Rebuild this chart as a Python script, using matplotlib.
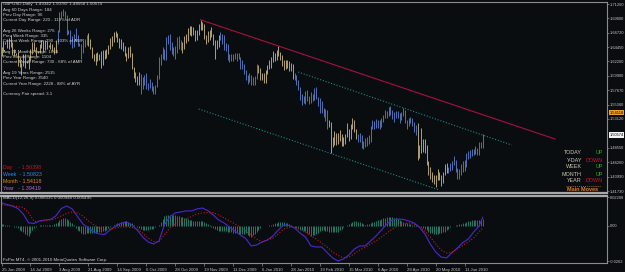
import matplotlib
matplotlib.use('Agg')
import matplotlib.pyplot as plt
import matplotlib.transforms as mtransforms
from matplotlib.lines import Line2D
import numpy as np

plt.rcParams['font.family'] = ['Liberation Sans', 'DejaVu Sans']

# GBPUSD daily bars, 25 Jun 2009 .. 25 Jun 2010 (one value per bar)
highs = [
    1.6440, 1.6550, 1.6530, 1.6580, 1.6590, 1.6630, 1.6530, 1.6410, 1.6360, 1.6370,
    1.6290, 1.6200, 1.6330, 1.6330, 1.6230, 1.6300, 1.6420, 1.6520, 1.6520, 1.6440,
    1.6390, 1.6490, 1.6560, 1.6560, 1.6560, 1.6540, 1.6480, 1.6530, 1.6500, 1.6440,
    1.6560, 1.6720, 1.7000, 1.7020, 1.7043, 1.7010, 1.6950, 1.6710, 1.6720, 1.6620,
    1.6650, 1.6740, 1.6640, 1.6510, 1.6500, 1.6550, 1.6580, 1.6630, 1.6670, 1.6580,
    1.6450, 1.6340, 1.6350, 1.6370, 1.6330, 1.6380, 1.6400, 1.6400, 1.6420, 1.6480,
    1.6590, 1.6620, 1.6690, 1.6700, 1.6670, 1.6590, 1.6580, 1.6530, 1.6470, 1.6360,
    1.6450, 1.6460, 1.6350, 1.6130, 1.6060, 1.5990, 1.6050, 1.6020, 1.5980, 1.6000,
    1.6030, 1.5880, 1.5950, 1.5900, 1.5830, 1.5850, 1.6000, 1.6290, 1.6340, 1.6440,
    1.6410, 1.6610, 1.6640, 1.6660, 1.6520, 1.6450, 1.6460, 1.6600, 1.6620, 1.6560,
    1.6520, 1.6620, 1.6660, 1.6740, 1.6780, 1.6780, 1.6760, 1.6720, 1.6720, 1.6810,
    1.6877, 1.6840, 1.6810, 1.6640, 1.6700, 1.6720, 1.6760, 1.6660, 1.6560, 1.6560,
    1.6630, 1.6680, 1.6650, 1.6640, 1.6510, 1.6490, 1.6330, 1.6330, 1.6330, 1.6360,
    1.6350, 1.6350, 1.6290, 1.6240, 1.6180, 1.6080, 1.6000, 1.6030, 1.6010, 1.5980,
    1.5990, 1.6180, 1.6160, 1.6120, 1.6040, 1.6040, 1.6080, 1.6170, 1.6240, 1.6290,
    1.6380, 1.6360, 1.6400, 1.6457, 1.6370, 1.6320, 1.6240, 1.6240, 1.6250, 1.6220,
    1.6200, 1.6180, 1.6030, 1.6000, 1.5920, 1.5810, 1.5700, 1.5670, 1.5760, 1.5770,
    1.5680, 1.5730, 1.5710, 1.5800, 1.5820, 1.5660, 1.5650, 1.5600, 1.5490, 1.5470,
    1.5460, 1.5290, 1.5270, 1.5020, 1.5120, 1.5090, 1.5090, 1.5130, 1.5080, 1.5030,
    1.5080, 1.5240, 1.5160, 1.5230, 1.5320, 1.5290, 1.5160, 1.5080, 1.5090, 1.5050,
    1.4960, 1.5010, 1.5030, 1.5060, 1.5200, 1.5290, 1.5280, 1.5310, 1.5300, 1.5290,
    1.5330, 1.5380, 1.5460, 1.5440, 1.5500, 1.5520, 1.5460, 1.5420, 1.5440, 1.5430,
    1.5410, 1.5420, 1.5480, 1.5460, 1.5300, 1.5320, 1.5340, 1.5330, 1.5260, 1.5210,
    1.5240, 1.4900, 1.5170, 1.5000, 1.4990, 1.4900, 1.4640, 1.4550, 1.4480, 1.4430,
    1.4430, 1.4520, 1.4480, 1.4430, 1.4480, 1.4600, 1.4610, 1.4560, 1.4620, 1.4640,
    1.4720, 1.4660, 1.4530, 1.4520, 1.4600, 1.4650, 1.4670, 1.4770, 1.4800, 1.4820,
    1.4830, 1.4840, 1.4890, 1.4860, 1.4940, 1.4955, 1.5079,
]
lows = [
    1.6300, 1.6390, 1.6500, 1.6430, 1.6420, 1.6440, 1.6320, 1.6300, 1.6320, 1.6150,
    1.6130, 1.6000, 1.6150, 1.6120, 1.6190, 1.6100, 1.6230, 1.6340, 1.6380, 1.6300,
    1.6350, 1.6350, 1.6430, 1.6370, 1.6400, 1.6420, 1.6440, 1.6420, 1.6380, 1.6330,
    1.6360, 1.6500, 1.6690, 1.6900, 1.6930, 1.6870, 1.6640, 1.6660, 1.6500, 1.6430,
    1.6440, 1.6560, 1.6460, 1.6460, 1.6260, 1.6350, 1.6450, 1.6480, 1.6460, 1.6410,
    1.6270, 1.6230, 1.6160, 1.6220, 1.6240, 1.6120, 1.6170, 1.6260, 1.6270, 1.6340,
    1.6410, 1.6460, 1.6520, 1.6600, 1.6530, 1.6430, 1.6420, 1.6380, 1.6300, 1.6220,
    1.6280, 1.6290, 1.6100, 1.5960, 1.5890, 1.5840, 1.5840, 1.5710, 1.5780, 1.5850,
    1.5780, 1.5770, 1.5800, 1.5750, 1.5710, 1.5707, 1.5820, 1.5940, 1.6170, 1.6260,
    1.6240, 1.6240, 1.6490, 1.6400, 1.6330, 1.6300, 1.6260, 1.6360, 1.6420, 1.6400,
    1.6360, 1.6420, 1.6510, 1.6540, 1.6630, 1.6620, 1.6640, 1.6540, 1.6560, 1.6640,
    1.6720, 1.6720, 1.6580, 1.6490, 1.6520, 1.6560, 1.6600, 1.6480, 1.6260, 1.6420,
    1.6440, 1.6560, 1.6500, 1.6400, 1.6380, 1.6250, 1.6210, 1.6220, 1.6220, 1.6260,
    1.6220, 1.6260, 1.6100, 1.6100, 1.6020, 1.5920, 1.5860, 1.5900, 1.5840, 1.5840,
    1.5850, 1.5950, 1.6040, 1.5920, 1.5920, 1.5880, 1.5880, 1.6020, 1.6100, 1.6110,
    1.6210, 1.6230, 1.6250, 1.6310, 1.6240, 1.6140, 1.6080, 1.6100, 1.6120, 1.6070,
    1.6070, 1.5950, 1.5920, 1.5850, 1.5770, 1.5610, 1.5530, 1.5570, 1.5550, 1.5600,
    1.5540, 1.5560, 1.5600, 1.5610, 1.5620, 1.5520, 1.5410, 1.5400, 1.5340, 1.5280,
    1.5150, 1.5180, 1.4781, 1.4870, 1.4900, 1.4900, 1.4920, 1.4960, 1.4890, 1.4880,
    1.4920, 1.5020, 1.4960, 1.5000, 1.5160, 1.5110, 1.5000, 1.4940, 1.4950, 1.4850,
    1.4840, 1.4870, 1.4880, 1.4920, 1.4940, 1.5150, 1.5150, 1.5170, 1.5170, 1.5160,
    1.5190, 1.5260, 1.5330, 1.5320, 1.5360, 1.5380, 1.5310, 1.5260, 1.5330, 1.5330,
    1.5250, 1.5300, 1.5360, 1.5250, 1.5150, 1.5200, 1.5240, 1.5200, 1.5110, 1.5060,
    1.4660, 1.4700, 1.4770, 1.4790, 1.4780, 1.4580, 1.4430, 1.4370, 1.4320, 1.4290,
    1.4230, 1.4350, 1.4350, 1.4250, 1.4300, 1.4420, 1.4460, 1.4450, 1.4490, 1.4500,
    1.4580, 1.4470, 1.4370, 1.4370, 1.4420, 1.4470, 1.4490, 1.4550, 1.4680, 1.4690,
    1.4720, 1.4740, 1.4760, 1.4740, 1.4740, 1.4859, 1.4856,
]
# bar colouring runs: first bar of each run and its colour
run_start = [0, 31, 48, 77, 100, 121, 142, 162, 181, 197, 230, 247]
run_col = ['gold', 'blue', 'gold', 'blue', 'gold', 'blue',
           'gold', 'blue', 'gold', 'blue', 'gold', 'blue']

date_labels = ['25 Jun 2009', '14 Jul 2009', '3 Aug 2009', '21 Aug 2009', '14 Sep 2009',
               '6 Oct 2009', '28 Oct 2009', '19 Nov 2009', '11 Dec 2009', '6 Jan 2010',
               '28 Jan 2010', '19 Feb 2010', '15 Mar 2010', '6 Apr 2010', '28 Apr 2010',
               '20 May 2010', '11 Jun 2010']
date_bar = [0, 16, 32, 48, 64, 80, 96, 112, 128, 144, 160, 176, 192, 208, 224, 240, 256]

price_ticks = [1.7126, 1.6900, 1.6672, 1.6445, 1.6220, 1.5990, 1.5767,
               1.5536, 1.5312, 1.4855, 1.4626, 1.4399, 1.4173]
price_labels = ['1.71260', '1.69000', '1.66720', '1.64450', '1.62200', '1.59900', '1.57670',
                '1.55360', '1.53120', '1.48550', '1.46260', '1.43990', '1.41730']
last_price = 1.50574
month_level = 1.54118

# trendline and channel anchors (bar index, price)
trend_x, trend_y = [110, 306], [1.6877, 1.4994]
chan_hi_x, chan_hi_y = [164, 282], [1.6052, 1.4900]
chan_lo_x, chan_lo_y = [109, 242], [1.5468, 1.4189]

# MACD(12,26,9), read every third bar
macd_bar = list(range(0, 265, 3)) + [266]
macd_main = [
    0.0173, 0.0161, 0.0150, 0.0131, 0.0090, 0.0023, 0.0019, 0.0038, 0.0045, 0.0049,
    0.0075, 0.0131, 0.0150, 0.0128, 0.0071, 0.0015, -0.0015, -0.0045, -0.0060, -0.0064,
    -0.0030, 0.0000, 0.0019, 0.0030, 0.0008, -0.0030, -0.0083, -0.0120, -0.0135, -0.0113,
    0.0008, 0.0068, 0.0098, 0.0105, 0.0113, 0.0113, 0.0128, 0.0135, 0.0116, 0.0083,
    0.0045, 0.0023, -0.0008, -0.0038, -0.0068, -0.0094, -0.0150, -0.0143, -0.0120, -0.0105,
    -0.0075, -0.0030, 0.0008, 0.0004, -0.0015, -0.0053, -0.0083, -0.0150, -0.0158, -0.0158,
    -0.0199, -0.0240, -0.0263, -0.0248, -0.0218, -0.0173, -0.0150, -0.0150, -0.0113, -0.0075,
    -0.0030, 0.0015, 0.0045, 0.0053, 0.0049, 0.0038, 0.0023, -0.0008, -0.0060, -0.0135,
    -0.0195, -0.0233, -0.0240, -0.0200, -0.0165, -0.0125, -0.0098, -0.0045, 0.0000, 0.0065,
]
macd_signal = [
    0.0158, 0.0154, 0.0150, 0.0146, 0.0139, 0.0098, 0.0034, 0.0034, 0.0041, 0.0045,
    0.0056, 0.0075, 0.0094, 0.0105, 0.0098, 0.0075, 0.0038, 0.0008, -0.0015, -0.0026,
    -0.0023, -0.0015, -0.0008, -0.0008, -0.0011, -0.0023, -0.0053, -0.0090, -0.0116, -0.0120,
    -0.0068, -0.0015, 0.0015, 0.0038, 0.0053, 0.0071, 0.0090, 0.0098, 0.0101, 0.0101,
    0.0083, 0.0060, 0.0038, 0.0015, -0.0008, -0.0038, -0.0068, -0.0098, -0.0120, -0.0105,
    -0.0090, -0.0060, -0.0023, -0.0011, -0.0008, -0.0023, -0.0045, -0.0075, -0.0098, -0.0128,
    -0.0158, -0.0195, -0.0221, -0.0240, -0.0233, -0.0210, -0.0180, -0.0161, -0.0135, -0.0113,
    -0.0083, -0.0053, -0.0023, 0.0000, 0.0019, 0.0023, 0.0015, -0.0008, -0.0038, -0.0083,
    -0.0135, -0.0180, -0.0203, -0.0199, -0.0173, -0.0146, -0.0120, -0.0090, -0.0045, -0.0015,
]
# histogram, one value per bar, in units of 0.0001
macd_hist = [
    15, 12, 9, 7, 5, 2, 0, -5, -10, -15,
    -27, -38, -49, -58, -67, -75, -50, -30, -15, -7,
    0, 4, 4, 4, 4, 4, 4, 4, 9, 14,
    19, 32, 45, 56, 58, 57, 56, 45, 33, 23,
    5, -12, -27, -40, -52, -60, -57, -55, -53, -53,
    -53, -53, -50, -48, -45, -42, -40, -38, -28, -17,
    -7, 0, 8, 15, 19, 23, 27, 31, 35, 38,
    32, 25, 19, 10, 1, -7, -15, -23, -30, -30,
    -30, -30, -26, -22, -19, -10, -2, 7, 30, 55,
    76, 80, 82, 83, 83, 83, 83, 78, 72, 67,
    65, 62, 60, 54, 48, 42, 41, 39, 38, 38,
    37, 37, 30, 22, 15, 4, -7, -18, -25, -32,
    -38, -38, -37, -37, -40, -43, -46, -48, -51, -53,
    -55, -58, -60, -59, -57, -56, -65, -74, -82, -70,
    -57, -45, -30, -15, 0, 0, 0, 0, 5, 10,
    15, 20, 25, 30, 30, 31, 31, 26, 20, 15,
    8, 0, -7, -15, -22, -30, -33, -35, -38, -50,
    -62, -75, -70, -65, -60, -50, -40, -30, -34, -37,
    -41, -42, -44, -45, -44, -43, -42, -30, -19, -8,
    0, 8, 15, 22, 30, 37, 35, 32, 30, 23,
    17, 11, 15, 18, 22, 27, 33, 38, 43, 48,
    53, 58, 63, 68, 68, 68, 68, 63, 58, 53,
    45, 38, 30, 25, 20, 15, 13, 10, 8, 5,
    3, 0, -7, -15, -22, -32, -42, -52, -55, -58,
    -60, -58, -55, -53, -48, -42, -30, -20, -10, -3,
    2, 6, 10, 14, 18, 22, 26, 30, 34, 38,
    42, 45, 45, 45, 45, 50, 55,
]
macd_ticks = [0.0214, 0.0, -0.0263]
macd_tick_labels = ['0.02208', '0.00', '-0.0263']

info_lines = ['GBPUSD,Daily  1.49342 1.50787 1.48558 1.50574',
              'Avg 60 Days Range: 184', 'Prev Day Range: 96',
              'Current Day Range: 220 - 119% of ADR', '',
              'Avg 26 Weeks Range: 276', 'Prev Week Range: 335',
              'Current Week Range: 290 - 103% of AWR', '',
              'Avg 24 Months Range: 1066', 'Prev Month Range: 1104',
              'Current Month Range: 730 - 68% of AMR', '',
              'Avg 19 Years Range: 2515', 'Prev Year Range: 3540',
              'Current Year Range: 2228 - 88% of AYR', '',
              'Currency Pair spread: 3.1']
level_names = ['Day    - ', 'Week  - ', 'Month - ', 'Year   - ']
level_values = ['1.50398', '1.50823', '1.54118', '1.39419']
move_names = ['TODAY', 'Y-DAY', 'WEEK', 'MONTH', 'YEAR']
move_values = ['UP', 'DOWN', 'UP', 'UP', 'DOWN']

# ---------------- drawing ----------------
BG = '#0a0d10'
FRAME = '#8c8c8c'
TXT = '#d0d0d0'
bar_rgb = {'gold': '#b2a267', 'blue': '#5070b0'}
W, H = 625.0, 272.0


def fx(px):
    return px / W


def fy(py):
    return 1 - py / H


fig = plt.figure(figsize=(W / 100, H / 100), dpi=100)
fig.patch.set_facecolor(BG)

ax = fig.add_axes([fx(1), fy(193), 606 / W, 191 / H])
ax2 = fig.add_axes([fx(1), fy(263), 606 / W, 67 / H])
for a in (ax, ax2):
    a.set_facecolor(BG)
    for s in a.spines.values():
        s.set_color(FRAME)
        s.set_linewidth(0.8)
    a.set_xlim(-0.3, 334.7)
    a.yaxis.tick_right()
    a.tick_params(axis='y', colors=FRAME, labelcolor='#c4c4c4', labelsize=2.9,
                  length=1.5, width=0.5, pad=0.6)
ax.spines['bottom'].set_color('#a8a8a8')
ax.spines['bottom'].set_linewidth(1.6)
ax2.spines['top'].set_color('#a8a8a8')
ax2.spines['top'].set_linewidth(1.6)

n = len(highs)
idx = np.arange(n)
run_of = np.searchsorted(run_start, idx, side='right') - 1
cols = [bar_rgb[run_col[r]] for r in run_of]
ax.vlines(idx, lows, highs, colors=cols, linewidth=0.7)

ax.plot(trend_x, trend_y, color='#a8103a', lw=0.8)
ax.plot(chan_hi_x, chan_hi_y, color='#1a8888', lw=0.8, ls=(0, (1, 1.6)))
ax.plot(chan_lo_x, chan_lo_y, color='#1a8888', lw=0.8, ls=(0, (1, 1.6)))

ax.set_ylim(1.4142, 1.7158)
ax.set_xticks([])
ax.set_yticks(price_ticks, labels=price_labels)

tr = mtransforms.blended_transform_factory(ax.transAxes, ax.transData)
ax.text(1.004, month_level, '1.54118', transform=tr, ha='left', va='center',
        fontsize=2.9, color='black',
        bbox=dict(boxstyle='square,pad=0.2', fc='#f0a020', ec='none'))
ax.text(1.004, last_price, '1.50574', transform=tr, ha='left', va='center',
        fontsize=2.9, color='black',
        bbox=dict(boxstyle='square,pad=0.2', fc='#f4f4f4', ec='none'))

# MACD panel
ax2.vlines(idx, 0, np.array(macd_hist) * 1e-4, colors='#1f7a68', linewidth=0.7)
ax2.plot(macd_bar, macd_main, color='#4a28d0', lw=0.8)
ax2.plot(macd_bar, macd_signal, color='#c81616', lw=0.8, ls=(0, (1, 1.6)))
ax2.set_ylim(-0.0278, 0.0225)
ax2.set_yticks(macd_ticks, labels=macd_tick_labels)
ax2.set_xticks(date_bar, labels=date_labels)
ax2.tick_params(axis='x', colors=FRAME, labelcolor='#c4c4c4', labelsize=3.1,
                length=2.5, width=0.5, pad=0.8)
for lbl in ax2.get_xticklabels():
    lbl.set_ha('left')

# overlay texts
for k, line in enumerate(info_lines):
    if line:
        fig.text(fx(3), fy(4.2 + 5.3 * k), line, fontsize=3.2, color=TXT,
                 ha='left', va='center')

level_cols = ['#d01024', '#2a88e8', '#e0880e', '#b46ad4']
for k in range(4):
    fig.text(fx(3), fy(167 + 7.3 * k), level_names[k] + level_values[k],
             fontsize=3.8, color=level_cols[k], ha='left', va='center')

for k in range(5):
    yy = fy(153 + 7.0 * k)
    fig.text(fx(582), yy, move_names[k], fontsize=3.9, color='#cfc6b2',
             ha='right', va='center')
    fig.text(fx(603), yy, move_values[k], fontsize=3.9,
             color='#22b022' if move_values[k] == 'UP' else '#d0102a',
             ha='right', va='center')
fig.add_artist(Line2D([fx(566), fx(600)], [fy(185.5), fy(185.5)],
                      transform=fig.transFigure, color='#e0801a', lw=0.6,
                      ls=(0, (1, 1.5))))
fig.text(fx(583), fy(189.5), 'Main Moves', fontsize=4.0, color='#e0801a',
         ha='center', va='center', fontweight='bold')

fig.text(fx(3), fy(198.5), 'MACD(12,26,9) 0.006535 0.000940 0.005495',
         fontsize=3.2, color=TXT, ha='left', va='center')
fig.text(fx(3), fy(260), 'FxPro MT4, \u00a9 2001-2010 MetaQuotes Software Corp.',
         fontsize=3.2, color=TXT, ha='left', va='center')

fig.savefig('out.png', dpi=100, facecolor=BG)
